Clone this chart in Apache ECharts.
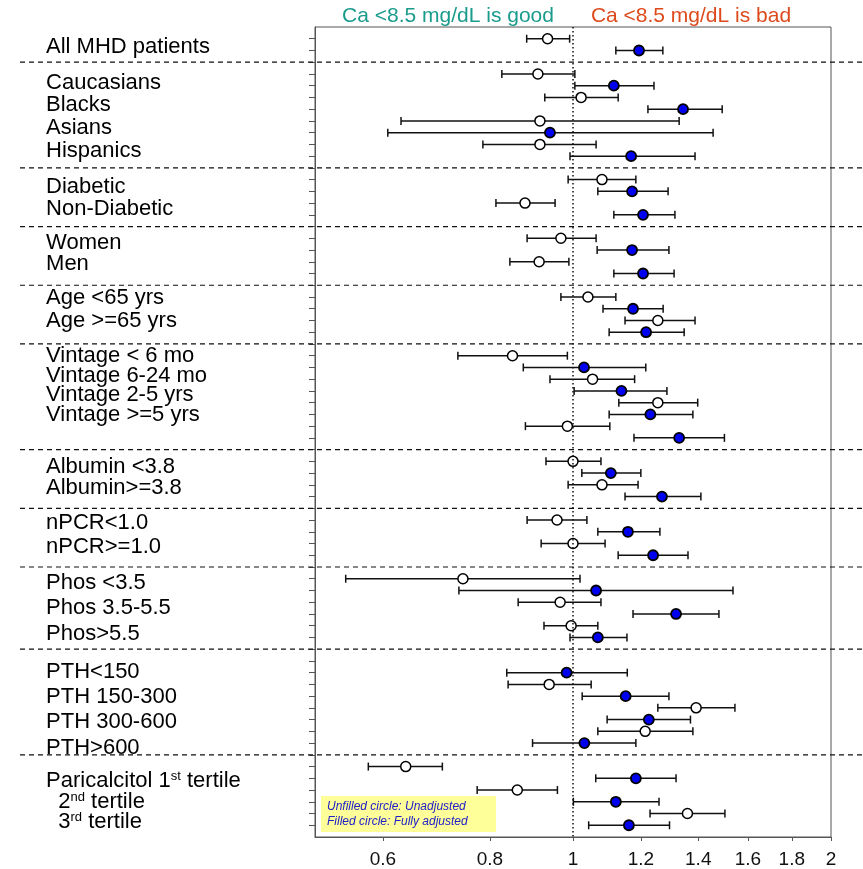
<!DOCTYPE html>
<html>
<head>
<meta charset="utf-8">
<script src="https://cdn.jsdelivr.net/npm/echarts@6/dist/echarts.min.js"></script>
<style>
  html, body { margin: 0; padding: 0; background: #fff; }
  #chart { width: 863px; height: 869px; }
</style>
</head>
<body>
<div id="chart"></div>
<script>
// Subgroup names on the left and the row (slot) where each name sits
var rowLabels = [
  'All MHD patients',
  'Caucasians', 'Blacks', 'Asians', 'Hispanics',
  'Diabetic', 'Non-Diabetic',
  'Women', 'Men',
  'Age <65 yrs', 'Age >=65 yrs',
  'Vintage < 6 mo', 'Vintage 6-24 mo', 'Vintage 2-5 yrs', 'Vintage >=5 yrs',
  'Albumin <3.8', 'Albumin>=3.8',
  'nPCR<1.0', 'nPCR>=1.0',
  'Phos <3.5', 'Phos 3.5-5.5', 'Phos>5.5',
  'PTH<150', 'PTH 150-300', 'PTH 300-600', 'PTH>600',
  'Paricalcitol 1{sup|st} tertile', '  2{sup|nd} tertile', '  3{sup|rd} tertile'
];
var labelRows = [
  1.73,
  4.79, 6.66, 8.62, 10.52,
  13.59, 15.48,
  18.38, 20.16,
  23.05, 25.01,
  27.95, 29.65, 31.3, 33.0,
  37.4, 39.2,
  42.2, 44.2,
  47.3, 49.4, 51.6,
  54.9, 57.0, 59.1, 61.3,
  64.15, 65.9, 67.6
];

// Unadjusted estimates (open circles)
var unadjRows = [1, 4, 6, 8, 10, 13, 15, 18, 20, 23, 25, 28, 30, 32, 34, 37, 39, 42, 44, 47, 49, 51, 56, 58, 60, 63, 65, 67];
var unadjHR   = [0.934, 0.910, 1.022, 0.915, 0.915, 1.081, 0.879, 0.968, 0.913, 1.041, 1.256, 0.850, 1.054, 1.256, 0.985, 1.000, 1.081, 0.958, 1.000, 0.744, 0.966, 0.995, 0.938, 1.392, 1.214, 0.638, 0.861, 1.360];
var unadjLow  = [0.883, 0.826, 0.927, 0.630, 0.785, 0.987, 0.813, 0.884, 0.844, 0.968, 1.150, 0.734, 0.940, 1.131, 0.880, 0.930, 0.987, 0.884, 0.918, 0.543, 0.863, 0.925, 0.840, 1.256, 1.069, 0.577, 0.773, 1.230];
var unadjHigh = [0.991, 1.005, 1.129, 1.330, 1.064, 1.184, 0.953, 1.064, 0.989, 1.122, 1.388, 0.985, 1.180, 1.398, 1.104, 1.078, 1.191, 1.038, 1.090, 1.019, 1.078, 1.069, 1.050, 1.545, 1.380, 0.704, 0.959, 1.504];

// Fully adjusted estimates (filled circles)
var adjRows = [2, 5, 7, 9, 11, 14, 16, 19, 21, 24, 26, 29, 31, 33, 35, 38, 40, 43, 45, 48, 50, 52, 55, 57, 59, 61, 64, 66, 68];
var adjHR   = [1.194, 1.116, 1.344, 0.940, 1.169, 1.172, 1.207, 1.172, 1.207, 1.175, 1.217, 1.030, 1.139, 1.231, 1.330, 1.107, 1.270, 1.159, 1.240, 1.064, 1.319, 1.069, 0.983, 1.152, 1.226, 1.031, 1.184, 1.122, 1.162];
var adjLow  = [1.122, 1.005, 1.223, 0.608, 0.992, 1.069, 1.116, 1.067, 1.116, 1.084, 1.102, 0.875, 1.003, 1.102, 1.178, 1.024, 1.150, 1.069, 1.129, 0.736, 1.175, 0.992, 0.837, 1.025, 1.096, 0.897, 1.063, 1.001, 1.043];
var adjHigh = [1.273, 1.243, 1.493, 1.457, 1.388, 1.291, 1.315, 1.294, 1.312, 1.274, 1.348, 1.216, 1.287, 1.380, 1.502, 1.200, 1.410, 1.263, 1.362, 1.537, 1.480, 1.156, 1.157, 1.294, 1.371, 1.184, 1.319, 1.260, 1.296];

// Dashed separators between the groups
var separatorRows = [3, 12, 17, 22, 27, 36, 41, 46, 53, 62];

// Hazard ratio axis (log scale)
var xTicks = [0.6, 0.8, 1, 1.2, 1.4, 1.6, 1.8, 2];
var xMin = 0.5, xMax = 2;
var rowMax = 69;

var FONT = '"Liberation Sans", Arial, sans-serif';
var LABEL_X = 46;      // left edge of the subgroup names
var SEP_LEFT = 20;     // dashed lines start here

var ln = Math.log;
var yTicks = [];
for (var r = 1; r < rowMax; r++) yTicks.push(r);

function errorBarData(rows, low, high) {
  return rows.map(function (row, i) { return [row, ln(low[i]), ln(high[i])]; });
}
function pointData(rows, hr) {
  return rows.map(function (row, i) { return [ln(hr[i]), row]; });
}

function renderErrorBar(params, api) {
  var row = api.value(0);
  var a = api.coord([api.value(1), row]);
  var b = api.coord([api.value(2), row]);
  var cap = 4;
  var st = { stroke: '#111', lineWidth: 1.5 };
  return {
    type: 'group',
    children: [
      { type: 'line', shape: { x1: a[0], y1: a[1], x2: b[0], y2: b[1] }, style: st },
      { type: 'line', shape: { x1: a[0], y1: a[1] - cap, x2: a[0], y2: a[1] + cap }, style: st },
      { type: 'line', shape: { x1: b[0], y1: b[1] - cap, x2: b[0], y2: b[1] + cap }, style: st }
    ]
  };
}

function renderSeparator(params, api) {
  var p = api.coord([0, api.value(1)]);
  return {
    type: 'line',
    shape: { x1: SEP_LEFT, y1: p[1], x2: api.getWidth(), y2: p[1] },
    style: { stroke: '#111', lineWidth: 1.2, lineDash: [5, 4] }
  };
}

var chart = echarts.init(document.getElementById('chart'));

var option = {
  backgroundColor: '#fff',
  animation: false,
  textStyle: { fontFamily: FONT },
  grid: [
    { left: 315, right: 32, top: 27, bottom: 31, show: true, borderColor: '#555', borderWidth: 1 },
    { left: 0, width: 315, top: 27, bottom: 31 }
  ],
  xAxis: [
    {
      type: 'value',
      gridIndex: 0,
      min: ln(xMin),
      max: ln(xMax),
      splitLine: { show: false },
      axisLine: { show: true, onZero: false, lineStyle: { color: '#555', width: 1 } },
      axisTick: { show: true, length: 4, customValues: xTicks.map(ln), lineStyle: { color: '#555' } },
      axisLabel: {
        customValues: xTicks.map(ln),
        margin: 13,
        fontSize: 19,
        color: '#111',
        fontFamily: FONT,
        formatter: function (v) { return String(Number(Math.exp(v).toFixed(1))); }
      }
    },
    { type: 'value', gridIndex: 1, min: 0, max: 315, show: false }
  ],
  yAxis: [
    {
      type: 'value',
      gridIndex: 0,
      inverse: true,
      min: 0,
      max: rowMax,
      splitLine: { show: false },
      axisLine: { show: true, onZero: false, lineStyle: { color: '#555', width: 1 } },
      axisTick: { show: true, length: 6, customValues: yTicks, lineStyle: { color: '#555' } },
      axisLabel: { show: false }
    },
    { type: 'value', gridIndex: 1, inverse: true, min: 0, max: rowMax, show: false }
  ],
  graphic: [
    {
      type: 'text', x: 448, y: 16, z: 10,
      style: { text: 'Ca <8.5 mg/dL is good', fill: '#1a9b8c', font: '21px ' + FONT, textAlign: 'center', textVerticalAlign: 'middle' }
    },
    {
      type: 'text', x: 691, y: 16, z: 10,
      style: { text: 'Ca <8.5 mg/dL is bad', fill: '#dd4a1c', font: '21px ' + FONT, textAlign: 'center', textVerticalAlign: 'middle' }
    },
    {
      type: 'group', z: 100,
      children: [
        { type: 'rect', shape: { x: 321, y: 796, width: 175, height: 36 }, style: { fill: '#ffff99' } },
        { type: 'text', x: 327, y: 807, style: { text: 'Unfilled circle: Unadjusted', fill: '#2020c8', font: 'italic 12px ' + FONT, textVerticalAlign: 'middle' } },
        { type: 'text', x: 327, y: 822, style: { text: 'Filled circle: Fully adjusted', fill: '#2020c8', font: 'italic 12px ' + FONT, textVerticalAlign: 'middle' } }
      ]
    }
  ],
  series: [
    {
      name: 'separators',
      type: 'custom',
      xAxisIndex: 0, yAxisIndex: 0,
      renderItem: renderSeparator,
      data: separatorRows.map(function (row) { return [0, row]; }),
      encode: { x: 0, y: 1 },
      clip: false,
      silent: true,
      z: 1
    },
    {
      name: 'CI unadjusted',
      type: 'custom',
      renderItem: renderErrorBar,
      data: errorBarData(unadjRows, unadjLow, unadjHigh),
      encode: { x: [1, 2], y: 0 },
      silent: true,
      z: 2,
      markLine: {
        silent: true,
        symbol: 'none',
        label: { show: false },
        lineStyle: { color: '#111', width: 1.5, type: [1.5, 2.5] },
        data: [{ xAxis: 0 }]
      }
    },
    {
      name: 'CI adjusted',
      type: 'custom',
      renderItem: renderErrorBar,
      data: errorBarData(adjRows, adjLow, adjHigh),
      encode: { x: [1, 2], y: 0 },
      silent: true,
      z: 2
    },
    {
      name: 'Unadjusted',
      type: 'scatter',
      symbol: 'circle',
      symbolSize: 10,
      data: pointData(unadjRows, unadjHR),
      itemStyle: { color: '#fff', borderColor: '#000', borderWidth: 1.5, opacity: 1 },
      z: 3
    },
    {
      name: 'Fully adjusted',
      type: 'scatter',
      symbol: 'circle',
      symbolSize: 10,
      data: pointData(adjRows, adjHR),
      itemStyle: { color: '#0000f0', borderColor: '#000', borderWidth: 1.8, opacity: 1 },
      z: 3
    },
    {
      name: 'labels',
      type: 'scatter',
      xAxisIndex: 1, yAxisIndex: 1,
      symbolSize: 0.1,
      itemStyle: { color: 'rgba(0,0,0,0)', opacity: 1 },
      silent: true,
      data: labelRows.map(function (row, i) { return { value: [LABEL_X, row], name: rowLabels[i] }; }),
      label: {
        show: true,
        position: 'right',
        distance: 0,
        formatter: '{b}',
        color: '#000',
        fontSize: 22,
        fontFamily: FONT,
        rich: {
          sup: { fontSize: 13, color: '#000', fontFamily: FONT, verticalAlign: 'top', lineHeight: 13 }
        }
      }
    }
  ]
};

chart.setOption(option);
</script>
</body>
</html>
